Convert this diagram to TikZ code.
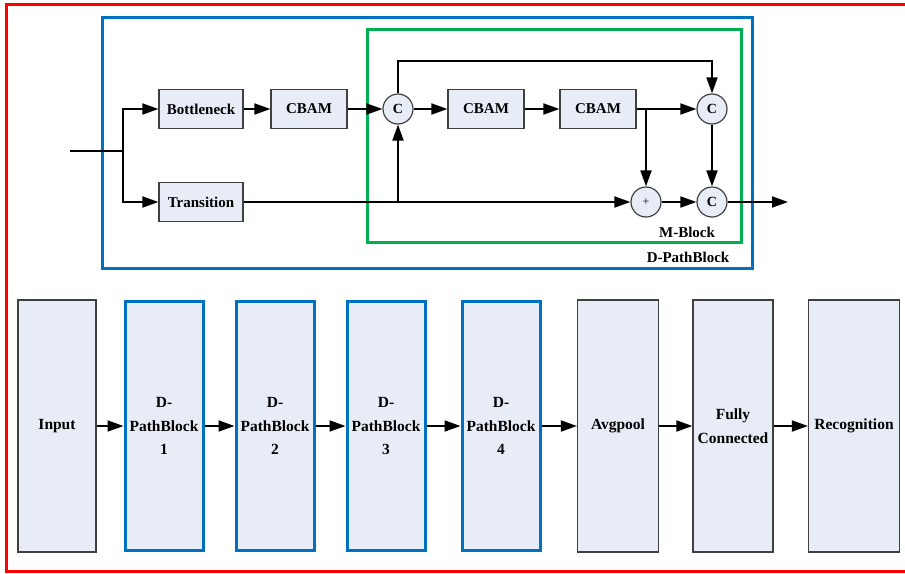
\documentclass[tikz,border=0pt]{standalone}
\usepackage{fontspec}
\setmainfont{Liberation Serif}
\usetikzlibrary{positioning, arrows.meta, calc}
\definecolor{boxfill}{HTML}{E7ECF6}
\definecolor{boxedge}{HTML}{404040}
\definecolor{dpblue}{HTML}{0070C0}
\definecolor{mgreen}{HTML}{00B050}

\begin{document}
\begin{tikzpicture}[x=1pt, y=-1pt,
        blockbox/.style={draw=boxedge, line width=1.2pt, fill=boxfill, rectangle, minimum width=84pt, minimum height=39pt, inner sep=0pt, font=\fontsize{15}{18}\selectfont\bfseries},
        opcircle/.style={draw=boxedge, line width=1.2pt, fill=boxfill, circle, minimum size=30pt, inner sep=0pt, font=\fontsize{14}{16}\selectfont\bfseries},
        tallbox/.style={draw=boxedge, line width=1.2pt, fill=boxfill, rectangle, minimum width=80pt, minimum height=252pt, inner sep=0pt, align=center, font=\fontsize{15.5}{23.5}\selectfont\bfseries},
        dpbox/.style={tallbox, draw=dpblue, line width=3pt, minimum width=78pt, minimum height=249pt},
        wire/.style={line width=1.8pt},
        flow/.style={wire, -{Triangle[length=16pt, width=11pt]}},
        frame/.style={line width=3pt},
        framelabel/.style={font=\fontsize{15}{18}\selectfont\bfseries}
    ]
    \useasboundingbox (0,0) rectangle (905,573);

    % Rahmen
    \draw[frame, red] (920,4) -- (6,4) -- (6,571) -- (920,571);
    \draw[frame, dpblue] (102,17) rectangle (752,268);
    \draw[frame, mgreen] (367,29) rectangle (741,242);
    \node[framelabel] (mlabel) at (687,232) {M-Block};
    \node[framelabel] (dlabel) at (688,257) {D-PathBlock};

    % Knoten oben
    \node[blockbox] (bneck) at (201,109) {Bottleneck};
    \node[blockbox, minimum width=76pt] (cbamA) at (309,109) {CBAM};
    \node[opcircle] (catA) at (398,109) {C};
    \node[blockbox, minimum width=76pt] (cbamB) at (486,109) {CBAM};
    \node[blockbox, minimum width=76pt] (cbamC) at (598,109) {CBAM};
    \node[opcircle] (catB) at (712,109) {C};
    \node[blockbox] (trans) at (201,202) {Transition};
    \node[opcircle, font=\fontsize{12}{14}\selectfont] (addA) at (646,202) {+};
    \node[opcircle] (catC) at (712,202) {C};
    \coordinate (inA) at (70,151);
    \coordinate (split) at (123,151);
    \coordinate (topy) at (0,61);
    \coordinate (outA) at (788,202);

    % Kanten oben
    \draw[wire] (inA) -- (split);
    \draw[flow] (split) |- (bneck);
    \draw[flow] (split) |- (trans);
    \draw[flow] (bneck) -- (cbamA);
    \draw[flow] (cbamA) -- (catA);
    \draw[flow] (catA) -- (cbamB);
    \draw[flow] (cbamB) -- (cbamC);
    \draw[flow] (cbamC) -- (catB);
    \draw[flow] (trans) -- (addA);
    \draw[flow] (trans -| catA) -- (catA);
    \draw[flow] (catA.north) -- (catA.north |- topy) -| (catB.north);
    \draw[flow] (cbamC.east -| addA) -- (addA);
    \draw[flow] (catB) -- (catC);
    \draw[flow] (addA) -- (catC);
    \draw[flow] (catC) -- (outA);

    % Knoten unten
    \node[tallbox, minimum width=78pt] (inp) at (57,426) {Input};
    \node[dpbox] (dpb1) at (164,426) {D-\\PathBlock\\1};
    \node[dpbox] (dpb2) at (275,426) {D-\\PathBlock\\2};
    \node[dpbox] (dpb3) at (386,426) {D-\\PathBlock\\3};
    \node[dpbox] (dpb4) at (501,426) {D-\\PathBlock\\4};
    \node[tallbox, minimum width=81pt] (avgp) at (618,426) {Avgpool};
    \node[tallbox] (fullc) at (733,426) {Fully\\Connected};
    \node[tallbox, minimum width=91pt] (recog) at (854,426) {Recognition};

    % Kanten unten
    \draw[flow] (inp) -- (dpb1);
    \draw[flow] (dpb1) -- (dpb2);
    \draw[flow] (dpb2) -- (dpb3);
    \draw[flow] (dpb3) -- (dpb4);
    \draw[flow] (dpb4) -- (avgp);
    \draw[flow] (avgp) -- (fullc);
    \draw[flow] (fullc) -- (recog);

\end{tikzpicture}
\end{document}
